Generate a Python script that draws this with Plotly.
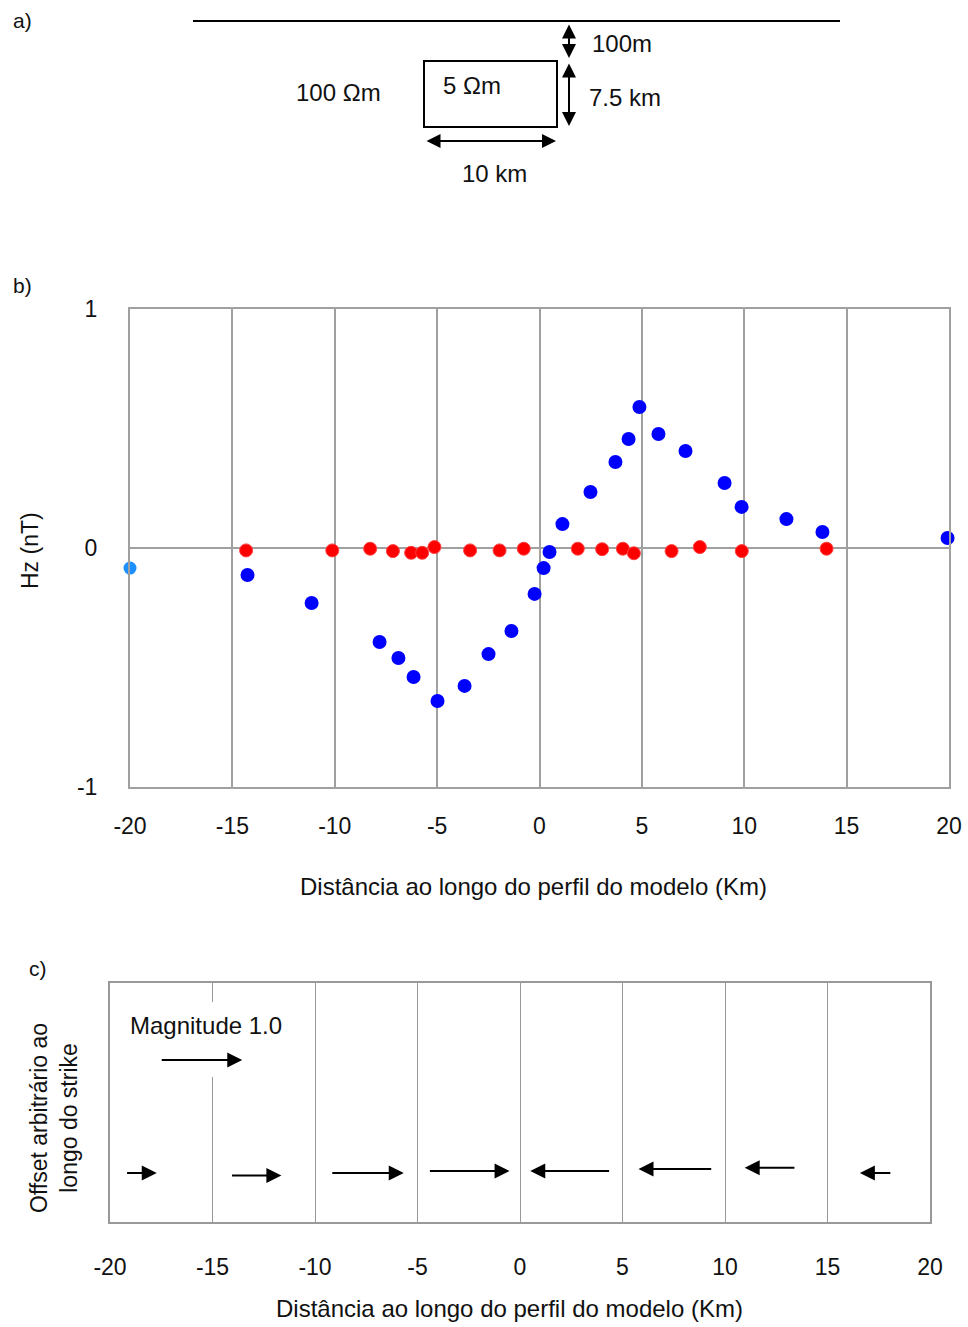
import plotly.graph_objects as go

W, H = 968, 1327
FONT = "Liberation Sans"

# ---------------- Panel b data (Hz, nT) ----------------
blue_x = [-14.26, -11.13, -7.81, -6.89, -6.15, -4.98, -3.66, -2.49, -1.37, -0.24,
          0.20, 0.49, 1.12, 2.49, 3.71, 4.35, 4.88, 5.81, 7.13, 9.04, 9.87, 12.06,
          13.82, 19.93]
blue_y = [-0.113, -0.23, -0.393, -0.46, -0.54, -0.64, -0.577, -0.444, -0.347, -0.192,
          -0.084, -0.017, 0.10, 0.234, 0.36, 0.456, 0.59, 0.477, 0.406, 0.272, 0.172,
          0.121, 0.067, 0.042]
lblue_x = [-20.0]
lblue_y = [-0.084]
red_x = [-14.33, -10.12, -8.27, -7.16, -6.27, -5.73, -5.13, -3.39, -1.95, -0.77,
         1.87, 3.06, 4.07, 4.61, 6.45, 7.83, 9.88, 14.02]
red_y = [-0.01, -0.01, -0.003, -0.013, -0.02, -0.02, 0.004, -0.01, -0.01, -0.003,
         -0.003, -0.005, -0.003, -0.022, -0.013, 0.004, -0.013, -0.003]
x_ticks = [-20, -15, -10, -5, 0, 5, 10, 15, 20]
x_tick_text = ["-20", "-15", "-10", "-5", "0", "5", "10", "15", "20"]
y_ticks = [-1, 0, 1]
y_tick_text = ["-1", "0", "1"]

# ---------------- Panel c data (induction arrows) ----------------
arrow_tail_x = [-19.24, -14.12, -9.23, -4.47, 4.42, 9.40, 13.46, 18.14]
arrow_mag = [0.38, 0.62, 0.89, 0.99, -0.98, -0.905, -0.625, -0.39]
arrow_offset = [0.205, 0.195, 0.205, 0.213, 0.213, 0.222, 0.227, 0.205]
km_per_unit = 4.0
ref_tail_x = -17.55
ref_mag = 1.0
ref_offset = 0.678


def px(x):
    return x / W


def py(y):
    return 1 - y / H


fig = go.Figure()

# Panel b traces
fig.add_trace(go.Scatter(x=blue_x, y=blue_y, mode="markers", xaxis="x", yaxis="y",
                         marker=dict(color="#0000FF", size=14, symbol="circle"),
                         cliponaxis=False, showlegend=False))
fig.add_trace(go.Scatter(x=lblue_x, y=lblue_y, mode="markers", xaxis="x", yaxis="y",
                         marker=dict(color="#1E8FFF", size=13, symbol="circle"),
                         cliponaxis=False, showlegend=False))
fig.add_trace(go.Scatter(x=red_x, y=red_y, mode="markers", xaxis="x", yaxis="y",
                         marker=dict(color="#FF0000", size=13, symbol="circle",
                                     line=dict(color="#FF4040", width=1)),
                         cliponaxis=False, showlegend=False))

# Panel c / panel a: dummy traces to set the axes
fig.add_trace(go.Scatter(x=[None], y=[None], xaxis="x2", yaxis="y2", showlegend=False))
fig.add_trace(go.Scatter(x=[None], y=[None], xaxis="x3", yaxis="y3", showlegend=False))

grid = "#A0A0A0"
tickfont = dict(family=FONT, size=23, color="#111")

fig.update_layout(
    template="none",
    width=W, height=H, autosize=False,
    margin=dict(l=0, r=0, t=0, b=0, pad=0, autoexpand=False),
    paper_bgcolor="white", plot_bgcolor="rgba(0,0,0,0)",
    font=dict(family=FONT, size=23, color="#111"),
    xaxis=dict(domain=[px(130), px(949)], range=[-20, 20], tickvals=x_ticks,
               ticktext=x_tick_text, automargin=False,
               showgrid=True, gridcolor=grid, gridwidth=2, zeroline=False,
               showline=True, linecolor=grid, linewidth=2, mirror=True,
               ticks="", tickfont=tickfont, ticklabelstandoff=17, anchor="y"),
    yaxis=dict(domain=[py(787), py(309)], range=[-1, 1], tickvals=y_ticks,
               ticktext=y_tick_text, automargin=False,
               showgrid=False, zeroline=True, zerolinecolor=grid, zerolinewidth=2,
               showline=True, linecolor=grid, linewidth=2, mirror=True,
               ticks="", tickfont=tickfont, ticklabelstandoff=26, anchor="x"),
    xaxis2=dict(domain=[px(110), px(930)], range=[-20, 20], tickvals=x_ticks,
                ticktext=x_tick_text, automargin=False,
                showgrid=True, gridcolor="#999999", gridwidth=1, zeroline=False,
                showline=True, linecolor="#999999", linewidth=2, mirror=True,
                ticks="", tickfont=tickfont, ticklabelstandoff=23, anchor="y2"),
    yaxis2=dict(domain=[py(1222), py(983)], range=[0, 1], showgrid=False,
                zeroline=False, showticklabels=False, ticks="", automargin=False,
                showline=True, linecolor="#999999", linewidth=2, mirror=True, anchor="x2"),
    xaxis3=dict(domain=[0, 1], range=[0, W], visible=False, anchor="y3", automargin=False),
    yaxis3=dict(domain=[py(230), 1], range=[230, 0], visible=False, anchor="x3",
                automargin=False),
)

shapes = []
# white gap in the -15 grid line of panel c (behind the magnitude legend)
shapes.append(dict(type="rect", xref="x2", yref="y2", x0=-15.4, x1=-14.6, y0=0.607, y1=0.92,
                   fillcolor="white", line=dict(width=0), layer="between"))

# Panel a schematic
blk = "#000000"
shapes.append(dict(type="line", xref="x3", yref="y3", x0=193, x1=840, y0=21, y1=21,
                   line=dict(color=blk, width=2)))
shapes.append(dict(type="rect", xref="x3", yref="y3", x0=424, x1=557, y0=61, y1=127,
                   line=dict(color=blk, width=2)))
fig.update_layout(shapes=shapes)

ann = []


def arrow(x, y, ax, ay, ref, width=2, size=1.5, head=2, side="end"):
    xr, yr = ref
    return dict(x=x, y=y, ax=ax, ay=ay, xref=xr, yref=yr, axref=xr, ayref=yr,
                text="", showarrow=True, arrowhead=head, arrowsize=size,
                arrowwidth=width, arrowcolor="black", arrowside=side,
                startarrowhead=head, startarrowsize=size, standoff=0, startstandoff=0)


# Panel a double arrows
ann.append(arrow(569, 58, 569, 23, ("x3", "y3"), side="end+start", size=1.4))
ann.append(arrow(569, 126, 569, 62, ("x3", "y3"), side="end+start", size=1.4))
ann.append(arrow(556, 141, 425, 141, ("x3", "y3"), side="end+start", size=1.4))


def text(t, x, y, size=24, xanchor="center", angle=0):
    return dict(text=t, x=px(x), y=py(y), xref="paper", yref="paper", showarrow=False,
                xanchor=xanchor, yanchor="middle", textangle=angle,
                font=dict(family=FONT, size=size, color="#111"))


ann += [
    text("a)", 22, 21, 21),
    text("100m", 622, 43),
    text("5 \u03a9m", 472, 85),
    text("100 \u03a9m", 338, 93),
    text("7.5 km", 625, 97),
    text("10 km", 494, 173),
    text("b)", 22, 285, 21),
    text("c)", 38, 968, 21),
    text("Dist\u00e2ncia ao longo do perfil do modelo (Km)", 533, 886),
    text("Hz (nT)", 30, 551, 23, angle=-90),
    text("Dist\u00e2ncia ao longo do perfil do modelo (Km)", 509, 1308),
    text("Offset arbitr\u00e1rio ao<br>longo do strike", 54, 1118, 23, angle=-90),
    text("Magnitude 1.0", 206, 1025),
]

# Panel c induction arrows
for tx, m, oy in zip(arrow_tail_x, arrow_mag, arrow_offset):
    ann.append(arrow(tx + m * km_per_unit, oy, tx, oy, ("x2", "y2")))
ann.append(arrow(ref_tail_x + ref_mag * km_per_unit, ref_offset, ref_tail_x, ref_offset,
                 ("x2", "y2")))

fig.update_layout(annotations=ann)
fig.write_html("out.html")
